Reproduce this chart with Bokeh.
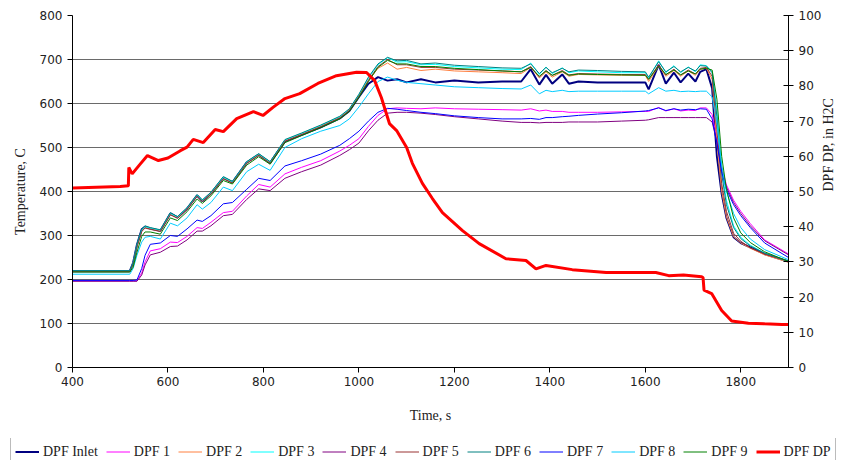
from math import pi
from bokeh.plotting import figure
from bokeh.layouts import column
from bokeh.models import Range1d, LinearAxis, FixedTicker, Legend, LegendItem
from bokeh.embed import file_html
from bokeh.resources import INLINE

# ---------------- data ----------------
time_s = [400, 520, 527, 535, 545, 552, 563, 584, 605, 620,
          640, 661, 672, 690, 716, 735, 765, 790, 814, 845,
          880, 920, 960, 980, 1000, 1020, 1040, 1060, 1080, 1100,
          1130, 1160, 1200, 1250, 1300, 1340, 1360, 1378, 1392, 1405,
          1426, 1440, 1460, 1500, 1550, 1600, 1607, 1628, 1643, 1660,
          1674, 1690, 1705, 1715, 1728, 1740, 1750, 1760, 1770, 1785,
          1800, 1820, 1850, 1900]

dpf_inlet = [219, 219, 238, 279, 314, 320, 316, 311, 350, 341,
             361, 391, 378, 396, 431, 421, 466, 484, 465, 514,
             529, 546, 566, 583, 615, 645, 660, 652, 655, 648,
             655, 648, 652, 648, 650, 650, 678, 643, 665, 645,
             666, 645, 650, 648, 648, 648, 632, 688, 645, 670,
             648, 668, 650, 672, 678, 635, 480, 395, 340, 296,
             283, 273, 258, 241]
dpf_1 = [197, 197, 197, 197, 215, 240, 265, 270, 285, 284,
         298, 318, 316, 330, 352, 355, 390, 416, 410, 440,
         455, 470, 492, 505, 520, 548, 573, 588, 590, 589,
         588, 590, 588, 587, 586, 585, 588, 583, 585, 582,
         582, 580, 580, 580, 581, 582, 582, 591, 583, 588,
         583, 585, 584, 590, 590, 575, 520, 455, 415, 380,
         355, 327, 290, 258]
dpf_2 = [218, 218, 236, 276, 311, 319, 316, 311, 349, 341,
         361, 391, 379, 396, 431, 421, 466, 484, 466, 516,
         531, 549, 569, 586, 618, 652, 680, 692, 678, 682,
         675, 678, 674, 672, 670, 668, 682, 658, 672, 660,
         672, 662, 666, 665, 664, 664, 650, 685, 662, 675,
         662, 674, 664, 678, 680, 655, 510, 400, 342, 297,
         283, 271, 256, 239]
dpf_3 = [219, 219, 237, 278, 313, 320, 317, 312, 350, 342,
         362, 392, 380, 397, 432, 422, 467, 485, 467, 517,
         532, 550, 570, 587, 620, 658, 688, 704, 694, 695,
         688, 689, 684, 681, 678, 677, 692, 666, 683, 668,
         681, 670, 674, 672, 670, 670, 658, 697, 670, 686,
         670, 683, 672, 688, 686, 672, 585, 450, 380, 322,
         296, 278, 260, 240]
dpf_4 = [196, 196, 196, 196, 210, 233, 256, 262, 275, 276,
         290, 310, 310, 322, 345, 348, 382, 406, 402, 430,
         445, 460, 482, 495, 510, 538, 562, 578, 580, 580,
         578, 575, 570, 565, 560, 557, 557, 556, 557, 557,
         557, 558, 558, 558, 560, 562, 563, 568, 568, 568,
         568, 568, 568, 568, 568, 558, 512, 450, 410, 375,
         350, 322, 288, 256]
dpf_5 = [218, 218, 235, 274, 309, 317, 314, 309, 347, 339,
         359, 389, 377, 394, 429, 419, 464, 482, 464, 514,
         529, 547, 567, 584, 616, 653, 684, 700, 688, 688,
         682, 682, 678, 676, 674, 672, 684, 660, 675, 664,
         675, 665, 668, 667, 666, 666, 655, 688, 665, 678,
         665, 676, 667, 680, 682, 662, 540, 418, 355, 305,
         287, 272, 258, 241]
dpf_6 = [220, 220, 238, 280, 315, 322, 318, 313, 352, 343,
         363, 393, 381, 398, 434, 423, 468, 486, 468, 518,
         533, 551, 571, 588, 621, 660, 690, 705, 697, 698,
         690, 692, 687, 684, 681, 680, 690, 668, 682, 670,
         680, 672, 676, 675, 673, 672, 660, 695, 672, 684,
         672, 682, 674, 686, 685, 670, 570, 440, 370, 318,
         293, 276, 260, 242]
dpf_7 = [198, 198, 198, 199, 225, 255, 280, 283, 300, 298,
         315, 335, 332, 345, 372, 375, 405, 430, 425, 458,
         470, 485, 505, 520, 537, 560, 580, 589, 587, 584,
         580, 577, 572, 568, 565, 565, 566, 564, 568, 568,
         570, 571, 573, 576, 579, 583, 584, 590, 584, 588,
         585, 587, 586, 588, 587, 565, 510, 445, 405, 370,
         345, 318, 283, 250]
dpf_8 = [212, 212, 225, 255, 285, 296, 298, 292, 328, 322,
         340, 370, 360, 375, 410, 402, 445, 462, 448, 500,
         520, 537, 550, 565, 592, 622, 650, 660, 653, 648,
         645, 642, 638, 636, 634, 633, 642, 622, 630, 627,
         630, 627, 628, 628, 628, 628, 622, 636, 628, 630,
         627, 628, 627, 628, 628, 615, 555, 460, 400, 350,
         318, 292, 268, 245]
dpf_9 = [217, 217, 228, 262, 298, 308, 308, 303, 340, 334,
         354, 383, 373, 390, 425, 417, 460, 479, 462, 511,
         527, 545, 565, 582, 614, 650, 682, 698, 690, 690,
         684, 684, 680, 677, 674, 672, 682, 662, 674, 664,
         673, 664, 667, 666, 665, 664, 655, 685, 666, 676,
         665, 674, 667, 678, 680, 676, 610, 480, 405, 340,
         306, 284, 263, 241]

dp_time = [400, 450, 500, 517, 518, 525, 540, 557, 580, 600,
           626, 640, 653, 674, 699, 716, 744, 779, 799, 820,
           845, 876, 914, 953, 995, 1016, 1033, 1047, 1064, 1079,
           1100, 1112, 1133, 1154, 1175, 1217, 1252, 1308, 1350, 1371,
           1392, 1447, 1518, 1580, 1622, 1649, 1680, 1718, 1721, 1723,
           1739, 1760, 1781, 1816, 1850, 1886, 1900]
dpf_dp = [51.0, 51.2, 51.4, 51.6, 56.8, 55.0, 57.5, 60.2, 58.8, 59.5,
          61.6, 62.6, 64.8, 63.9, 67.6, 67.0, 70.7, 72.7, 71.6, 73.9,
          76.4, 77.8, 80.7, 82.9, 83.9, 83.8, 81.5, 76.7, 69.3, 67.3,
          62.5, 58.0, 52.3, 48.0, 44.0, 38.9, 35.2, 30.9, 30.4, 28.0,
          29.0, 27.8, 27.0, 27.0, 27.0, 26.1, 26.3, 25.8, 25.5, 22.0,
          21.0, 16.2, 13.2, 12.6, 12.4, 12.2, 12.2]

series_names = ["DPF Inlet", "DPF 1", "DPF 2", "DPF 3", "DPF 4",
                "DPF 5", "DPF 6", "DPF 7", "DPF 8", "DPF 9"]
series_values = [dpf_inlet, dpf_1, dpf_2, dpf_3, dpf_4,
                 dpf_5, dpf_6, dpf_7, dpf_8, dpf_9]
series_colors = ["#000080", "#FF00FF", "#FF8040", "#00FFFF", "#800080",
                 "#993333", "#008080", "#0000FF", "#00CCFF", "#008000"]
series_widths = [2, 1, 1, 1, 1, 1, 1, 1, 1, 1]
dp_name = "DPF DP"

left_ticks = [0, 100, 200, 300, 400, 500, 600, 700, 800]
right_ticks = [0, 10, 20, 30, 40, 50, 60, 70, 80, 90, 100]
x_ticks = [400, 600, 800, 1000, 1200, 1400, 1600, 1800]

for v in series_values:
    assert len(v) == len(time_s)
assert len(dp_time) == len(dpf_dp)

SERIF = "Liberation Serif"
SANS = "DejaVu Sans"
TXT = "#222222"

# ---------------- main chart ----------------
p = figure(width=846, height=438, output_backend="svg", toolbar_location=None,
           x_range=Range1d(400, 1900), y_range=Range1d(0, 800),
           min_border_left=72, min_border_right=56, min_border_top=15,
           min_border_bottom=71, outline_line_color=None,
           background_fill_color="white", border_fill_color="white")
p.extra_y_ranges = {"dp": Range1d(0, 100)}

p.xgrid.visible = False
p.ygrid.ticker = FixedTicker(ticks=left_ticks)
p.ygrid.grid_line_color = "#6a6a6a"
p.ygrid.grid_line_width = 1

def style_axis(ax):
    ax.axis_line_color = "black"
    ax.major_tick_line_color = "black"
    ax.minor_tick_line_color = None
    ax.major_label_text_font = SANS
    ax.major_label_text_font_size = "12px"
    ax.major_label_text_color = TXT
    ax.axis_label_text_font = SERIF
    ax.axis_label_text_font_size = "14px"
    ax.axis_label_text_font_style = "normal"
    ax.axis_label_text_color = TXT

xa = p.xaxis[0]
style_axis(xa)
xa.ticker = FixedTicker(ticks=x_ticks)
xa.major_tick_in = 0
xa.major_tick_out = 5
xa.major_label_standoff = 4
xa.axis_label = "Time, s"
xa.axis_label_standoff = 19

ya = p.yaxis[0]
style_axis(ya)
ya.ticker = FixedTicker(ticks=left_ticks)
ya.major_tick_in = 0
ya.major_tick_out = 5
ya.major_label_standoff = 5
ya.axis_label = "Temperature, C"
ya.axis_label_standoff = 9

rax = LinearAxis(y_range_name="dp", ticker=FixedTicker(ticks=right_ticks))
style_axis(rax)
rax.major_tick_in = 5
rax.major_tick_out = 5
rax.major_label_standoff = 5
rax.axis_label = "DPF DP, in H2C"
rax.axis_label_standoff = 4
if "axis_label_orientation" in rax.properties():
    rax.axis_label_orientation = pi / 2
p.add_layout(rax, "right")

for vals, col, w in zip(series_values, series_colors, series_widths):
    p.line(time_s, vals, line_color=col, line_width=w)
p.line(dp_time, dpf_dp, line_color="#FF0000", line_width=3, y_range_name="dp")

# ---------------- legend strip ----------------
q = figure(width=846, height=22, output_backend="svg", toolbar_location=None,
           x_range=Range1d(0, 1), y_range=Range1d(0, 1),
           x_axis_location=None, y_axis_location=None,
           min_border=0, min_border_left=0, min_border_right=0,
           min_border_top=0, min_border_bottom=0, outline_line_color=None,
           background_fill_color="white", border_fill_color="white")
q.grid.visible = False
if "frame_align" in q.properties():
    q.frame_align = False
    p.frame_align = False

items = []
for name, col, w in zip(series_names, series_colors, series_widths):
    r = q.line([5, 6], [5, 6], line_color=col, line_width=w)
    items.append(LegendItem(label=name, renderers=[r]))
r_dp = q.line([5, 6], [5, 6], line_color="#FF0000", line_width=3)
items.append(LegendItem(label=dp_name, renderers=[r_dp]))

legend = Legend(items=items, orientation="horizontal", location=(10, -6))
legend.label_text_font = SERIF
legend.label_text_font_size = "14px"
legend.label_text_color = TXT
legend.glyph_width = 24
legend.glyph_height = 15
legend.label_standoff = 4
legend.spacing = 8
legend.padding = 4
legend.margin = 0
legend.label_height = 19
legend.border_line_color = "#777777"
legend.border_line_width = 1
legend.background_fill_color = "white"
legend.background_fill_alpha = 1
q.add_layout(legend, "center")

layout = column(p, q, spacing=0)
open("out.html", "w").write(file_html(layout, INLINE))
